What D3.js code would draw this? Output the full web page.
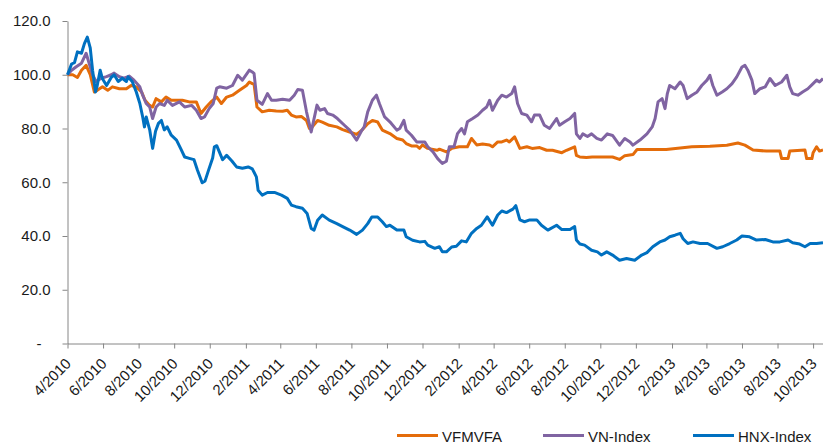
<!DOCTYPE html>
<html>
<head>
<meta charset="utf-8">
<script src="https://cdn.jsdelivr.net/npm/d3@7/dist/d3.min.js"></script>
<style>
  body { margin: 0; background: #fff; }
  svg { display: block; font-family: "Liberation Sans", Arial, sans-serif; }
  .axis path, .axis line { stroke: #868686; }
  .axis text { fill: #1a1a1a; font-size: 15px; }
  .legend text { fill: #1a1a1a; font-size: 15px; }
</style>
</head>
<body>
<svg width="823" height="444"></svg>
<script>
'use strict';

var seriesNames = ["VFMVFA", "VN-Index", "HNX-Index"];
var seriesColors = ["#e46c0a", "#8064a2", "#0070c0"];

var yTicks = [0, 20, 40, 60, 80, 100, 120];

var xTicks = ["2010-04-01", "2010-06-01", "2010-08-01", "2010-10-01", "2010-12-01",
  "2011-02-01", "2011-04-01", "2011-06-01", "2011-08-01", "2011-10-01", "2011-12-01",
  "2012-02-01", "2012-04-01", "2012-06-01", "2012-08-01", "2012-10-01", "2012-12-01",
  "2013-02-01", "2013-04-01", "2013-06-01", "2013-08-01", "2013-10-01"];

var vfmvfa = [
  ["2010-04-01", 100], ["2010-04-10", 100], ["2010-04-18", 99], ["2010-04-25", 101.7],
  ["2010-05-03", 103.5], ["2010-05-10", 100], ["2010-05-17", 93.6], ["2010-05-22", 94.2],
  ["2010-05-31", 95.5], ["2010-06-09", 94.2], ["2010-06-17", 95.5], ["2010-06-29", 94.8],
  ["2010-07-11", 94.8], ["2010-07-19", 96], ["2010-07-28", 95.5], ["2010-08-06", 93.6],
  ["2010-08-12", 90.5], ["2010-08-20", 88.6], ["2010-08-25", 88], ["2010-08-31", 91.1],
  ["2010-09-09", 89.9], ["2010-09-17", 91.7], ["2010-09-26", 90.5], ["2010-10-05", 90.5],
  ["2010-10-15", 90.5], ["2010-10-27", 89.9], ["2010-11-08", 89.9], ["2010-11-16", 85.6],
  ["2010-11-25", 88], ["2010-12-03", 89.9], ["2010-12-13", 91.7], ["2010-12-21", 89.3],
  ["2010-12-30", 91.7], ["2011-01-09", 92.4], ["2011-01-21", 94.2], ["2011-02-02", 96],
  ["2011-02-07", 97.3], ["2011-02-12", 96.7], ["2011-02-15", 96.5], ["2011-02-20", 88],
  ["2011-03-01", 86.2], ["2011-03-13", 86.8], ["2011-03-25", 86.5], ["2011-04-05", 86.4],
  ["2011-04-13", 86.8], ["2011-04-20", 85], ["2011-04-28", 84.3], ["2011-05-07", 84.5],
  ["2011-05-16", 83], ["2011-05-21", 80], ["2011-05-26", 80.6], ["2011-06-04", 83],
  ["2011-06-12", 82.4], ["2011-06-24", 81.2], ["2011-07-07", 80.6], ["2011-07-17", 79.6],
  ["2011-07-29", 78.7], ["2011-08-10", 77.8], ["2011-08-20", 79.6], ["2011-08-29", 81.8],
  ["2011-09-06", 83], ["2011-09-15", 82.4], ["2011-09-23", 79.4], ["2011-10-06", 78.1],
  ["2011-10-18", 76.3], ["2011-10-28", 75.7], ["2011-11-03", 74.4], ["2011-11-12", 73.5],
  ["2011-11-21", 73.5], ["2011-11-26", 72.6], ["2011-12-01", 73.9], ["2011-12-10", 72.6],
  ["2011-12-26", 71.9], ["2011-12-30", 72.3], ["2012-01-11", 71.3], ["2012-01-20", 72.6],
  ["2012-02-02", 73.2], ["2012-02-16", 73.2], ["2012-02-23", 76.3], ["2012-03-03", 73.9],
  ["2012-03-13", 74.2], ["2012-03-25", 73.9], ["2012-03-30", 73.2], ["2012-04-08", 75],
  ["2012-04-15", 75], ["2012-04-23", 75.7], ["2012-04-28", 75], ["2012-05-07", 76.9],
  ["2012-05-16", 72.6], ["2012-05-28", 73.2], ["2012-06-06", 72.6], ["2012-06-19", 72.9],
  ["2012-07-01", 71.9], ["2012-07-11", 71.9], ["2012-07-27", 71], ["2012-08-04", 71.9],
  ["2012-08-18", 73.2], ["2012-08-21", 70], ["2012-08-27", 69.4], ["2012-09-07", 69.2],
  ["2012-09-17", 69.4], ["2012-10-05", 69.4], ["2012-10-22", 69.4], ["2012-11-03", 68.5],
  ["2012-11-12", 69.9], ["2012-11-26", 70.3], ["2012-12-03", 72.2], ["2012-12-13", 72.2],
  ["2013-01-22", 72.2], ["2013-03-07", 73.2], ["2013-04-07", 73.4], ["2013-05-06", 73.8],
  ["2013-05-25", 74.6], ["2013-06-06", 73.8], ["2013-06-20", 72], ["2013-07-13", 71.6],
  ["2013-08-05", 71.6], ["2013-08-08", 68.8], ["2013-08-19", 68.8], ["2013-08-22", 71.6],
  ["2013-09-17", 72], ["2013-09-20", 68.8], ["2013-09-29", 68.8], ["2013-10-01", 71],
  ["2013-10-07", 73.2], ["2013-10-12", 71.6], ["2013-10-18", 72]
];

var vnIndex = [
  ["2010-04-01", 100], ["2010-04-08", 101.7], ["2010-04-16", 103], ["2010-04-25", 104.3],
  ["2010-05-03", 108], ["2010-05-08", 104.3], ["2010-05-14", 100], ["2010-05-20", 97.5],
  ["2010-05-29", 98.7], ["2010-06-07", 99.3], ["2010-06-15", 100], ["2010-06-20", 100.6],
  ["2010-06-29", 99.3], ["2010-07-07", 98.7], ["2010-07-16", 99.5], ["2010-07-24", 98],
  ["2010-08-03", 95.5], ["2010-08-08", 92.4], ["2010-08-14", 89.3], ["2010-08-20", 88],
  ["2010-08-25", 83.7], ["2010-08-31", 88], ["2010-09-06", 89.3], ["2010-09-14", 88.6],
  ["2010-09-19", 90.5], ["2010-09-28", 88.6], ["2010-10-10", 89.9], ["2010-10-19", 88],
  ["2010-10-31", 88.6], ["2010-11-08", 86.8], ["2010-11-16", 83.7], ["2010-11-22", 84.3],
  ["2010-11-30", 87.4], ["2010-12-07", 89.3], ["2010-12-13", 95], ["2010-12-18", 95.5],
  ["2010-12-30", 95], ["2011-01-09", 96], ["2011-01-18", 99.8], ["2011-01-26", 98],
  ["2011-02-07", 101.7], ["2011-02-12", 101], ["2011-02-15", 100.5], ["2011-02-20", 90.5],
  ["2011-03-01", 89], ["2011-03-10", 93], ["2011-03-17", 90.5], ["2011-03-25", 90.5],
  ["2011-04-05", 90.9], ["2011-04-17", 90.5], ["2011-04-25", 92.4], ["2011-05-01", 94.5],
  ["2011-05-09", 94.2], ["2011-05-16", 86.2], ["2011-05-24", 78.7], ["2011-06-03", 88.7],
  ["2011-06-08", 86.8], ["2011-06-16", 87.4], ["2011-06-21", 85.6], ["2011-06-30", 85],
  ["2011-07-08", 83.7], ["2011-07-20", 81.2], ["2011-07-29", 79.4], ["2011-08-10", 75.7],
  ["2011-08-18", 79], ["2011-08-23", 80.6], ["2011-08-29", 86.2], ["2011-09-06", 90.5],
  ["2011-09-13", 92.4], ["2011-09-18", 89.3], ["2011-09-27", 84.3], ["2011-10-06", 82.5],
  ["2011-10-18", 79.4], ["2011-10-23", 80], ["2011-10-30", 83], ["2011-11-03", 79.4],
  ["2011-11-12", 77.5], ["2011-11-21", 75], ["2011-12-05", 75], ["2011-12-10", 73.2],
  ["2011-12-19", 71.3], ["2011-12-27", 68.8], ["2012-01-04", 67], ["2012-01-11", 67.8],
  ["2012-01-16", 73.2], ["2012-01-24", 73.2], ["2012-01-30", 78.1], ["2012-02-06", 80],
  ["2012-02-11", 78], ["2012-02-16", 82.5], ["2012-02-25", 83.7], ["2012-03-05", 85],
  ["2012-03-13", 86.8], ["2012-03-20", 88], ["2012-03-25", 90.5], ["2012-03-30", 86.8],
  ["2012-04-08", 90.5], ["2012-04-15", 92.4], ["2012-04-23", 91.7], ["2012-05-02", 93],
  ["2012-05-07", 95.5], ["2012-05-12", 89.3], ["2012-05-19", 85.6], ["2012-05-28", 85],
  ["2012-06-05", 82.5], ["2012-06-10", 85], ["2012-06-19", 85], ["2012-06-27", 81.2],
  ["2012-07-06", 80], ["2012-07-18", 83.7], ["2012-07-23", 81.2], ["2012-08-01", 82.5],
  ["2012-08-10", 83.7], ["2012-08-18", 85.6], ["2012-08-21", 78], ["2012-08-27", 76.3],
  ["2012-09-01", 78], ["2012-09-09", 77], ["2012-09-16", 78], ["2012-09-25", 76.3],
  ["2012-10-03", 75.7], ["2012-10-13", 78], ["2012-10-22", 77.4], ["2012-11-03", 73.8],
  ["2012-11-12", 76.3], ["2012-11-21", 75], ["2012-11-26", 73.8], ["2012-12-08", 75.7],
  ["2012-12-20", 78], ["2012-12-29", 80.6], ["2013-01-03", 83.7], ["2013-01-08", 89.9],
  ["2013-01-15", 91.1], ["2013-01-20", 87.4], ["2013-01-24", 93], ["2013-01-28", 96],
  ["2013-02-06", 94.8], ["2013-02-15", 97.3], ["2013-02-20", 96], ["2013-02-27", 91.1],
  ["2013-03-07", 92.4], ["2013-03-16", 93.6], ["2013-03-24", 96], ["2013-04-02", 98],
  ["2013-04-07", 99.8], ["2013-04-12", 96], ["2013-04-19", 92.4], ["2013-04-28", 93.6],
  ["2013-05-06", 94.8], ["2013-05-15", 96.7], ["2013-05-23", 99.2], ["2013-06-01", 102.9],
  ["2013-06-06", 103.5], ["2013-06-11", 101.7], ["2013-06-18", 98], ["2013-06-23", 93],
  ["2013-07-02", 94.8], ["2013-07-11", 95.5], ["2013-07-19", 98.6], ["2013-07-28", 96],
  ["2013-08-08", 97.3], ["2013-08-17", 99.8], ["2013-08-22", 95.5], ["2013-08-27", 93],
  ["2013-09-05", 92.4], ["2013-09-13", 93.6], ["2013-09-22", 94.8], ["2013-10-01", 96.7],
  ["2013-10-07", 98], ["2013-10-12", 97.3], ["2013-10-18", 98.6]
];

var hnxIndex = [
  ["2010-04-01", 100], ["2010-04-08", 104], ["2010-04-13", 104.5], ["2010-04-18", 108.5],
  ["2010-04-25", 108], ["2010-04-30", 111.6], ["2010-05-05", 114], ["2010-05-10", 110],
  ["2010-05-14", 101.7], ["2010-05-19", 93.6], ["2010-05-22", 96], ["2010-05-27", 101.7],
  ["2010-05-31", 98.5], ["2010-06-07", 96], ["2010-06-15", 99], ["2010-06-20", 100],
  ["2010-06-27", 97.5], ["2010-07-04", 98.7], ["2010-07-11", 97.5], ["2010-07-14", 99.2],
  ["2010-07-21", 97.5], ["2010-07-28", 93.6], ["2010-08-03", 89.4], ["2010-08-08", 84.3],
  ["2010-08-11", 80.6], ["2010-08-14", 84.3], ["2010-08-20", 79.5], ["2010-08-25", 72.6],
  ["2010-08-30", 79], ["2010-09-04", 81.9], ["2010-09-09", 83], ["2010-09-14", 79.5],
  ["2010-09-19", 80.6], ["2010-09-26", 77.5], ["2010-10-05", 75.7], ["2010-10-12", 72.6],
  ["2010-10-19", 69.4], ["2010-10-27", 68.9], ["2010-11-04", 68.4], ["2010-11-10", 64.5],
  ["2010-11-18", 59.8], ["2010-11-23", 60.5], ["2010-11-29", 64.5], ["2010-12-06", 69],
  ["2010-12-09", 73.2], ["2010-12-13", 73.6], ["2010-12-18", 71], ["2010-12-23", 68.4],
  ["2010-12-30", 70], ["2011-01-08", 67.9], ["2011-01-16", 65.7], ["2011-01-26", 65.2],
  ["2011-02-05", 65.7], ["2011-02-12", 65], ["2011-02-19", 62], ["2011-02-22", 57],
  ["2011-03-01", 55.2], ["2011-03-10", 56.2], ["2011-03-22", 56.2], ["2011-04-03", 55.2],
  ["2011-04-13", 54], ["2011-04-20", 51.5], ["2011-04-28", 50.9], ["2011-05-09", 50.3],
  ["2011-05-17", 48.4], ["2011-05-24", 42.8], ["2011-05-29", 42.2], ["2011-06-04", 45.9],
  ["2011-06-12", 47.8], ["2011-06-24", 45.9], ["2011-07-07", 44.6], ["2011-07-17", 43.5],
  ["2011-07-29", 42.2], ["2011-08-10", 40.6], ["2011-08-20", 42.2], ["2011-08-29", 44.6],
  ["2011-09-05", 47.1], ["2011-09-15", 47.1], ["2011-09-23", 45.3], ["2011-09-30", 43.5],
  ["2011-10-06", 44], ["2011-10-18", 42.2], ["2011-10-30", 42.2], ["2011-11-03", 39.7],
  ["2011-11-14", 38.4], ["2011-11-26", 37.8], ["2011-12-05", 38], ["2011-12-10", 36.6],
  ["2011-12-22", 35.4], ["2011-12-30", 36], ["2012-01-04", 34.1], ["2012-01-11", 34.1],
  ["2012-01-20", 35.9], ["2012-01-28", 36.2], ["2012-02-06", 38.2], ["2012-02-14", 37.8],
  ["2012-02-23", 41], ["2012-03-03", 42.8], ["2012-03-11", 44], ["2012-03-21", 47.1],
  ["2012-03-30", 44], ["2012-04-08", 47.8], ["2012-04-15", 49.3], ["2012-04-23", 48.7],
  ["2012-05-04", 50], ["2012-05-09", 51.3], ["2012-05-16", 46], ["2012-05-24", 45.3],
  ["2012-06-02", 46], ["2012-06-14", 46], ["2012-06-22", 44], ["2012-07-03", 42.2],
  ["2012-07-18", 44], ["2012-07-27", 42.4], ["2012-08-10", 42.4], ["2012-08-18", 43.5],
  ["2012-08-21", 38.5], ["2012-08-27", 37], ["2012-09-04", 36.6], ["2012-09-16", 34.7],
  ["2012-09-26", 34.1], ["2012-10-03", 32.9], ["2012-10-12", 34.1], ["2012-10-22", 32.9],
  ["2012-11-03", 31], ["2012-11-15", 31.6], ["2012-11-29", 31], ["2012-12-11", 32.9],
  ["2012-12-20", 33.8], ["2012-12-30", 36], ["2013-01-11", 37.8], ["2013-01-20", 38.5],
  ["2013-01-28", 39.7], ["2013-02-06", 40.3], ["2013-02-15", 41], ["2013-02-20", 39],
  ["2013-02-28", 37.2], ["2013-03-09", 37.8], ["2013-03-21", 37.2], ["2013-04-03", 37.2],
  ["2013-04-19", 35.4], ["2013-04-29", 36], ["2013-05-11", 37.2], ["2013-05-23", 38.5],
  ["2013-06-01", 40], ["2013-06-14", 39.7], ["2013-06-26", 38.5], ["2013-07-11", 38.7],
  ["2013-07-24", 37.8], ["2013-08-05", 37.8], ["2013-08-19", 38.5], ["2013-08-27", 37.5],
  ["2013-09-08", 37], ["2013-09-17", 36], ["2013-09-26", 37.2], ["2013-10-07", 37.2],
  ["2013-10-18", 37.5]
];

var parse = d3.timeParse("%Y-%m-%d");
var series = [vfmvfa, vnIndex, hnxIndex].map(function (s) {
  return s.map(function (d) { return { date: parse(d[0]), v: d[1] }; });
});

var svg = d3.select('svg');

var x = d3.scaleTime()
  .domain([parse("2010-04-01"), parse("2013-10-18")])
  .range([67.5, 823]);

var y = d3.scaleLinear()
  .domain([0, 120])
  .range([343.5, 21]);

// y axis
var yAxis = svg.append('g')
  .attr('class', 'axis')
  .attr('transform', 'translate(67.5,0)')
  .call(d3.axisLeft(y)
    .tickValues(yTicks)
    .tickSize(5)
    .tickSizeOuter(0)
    .tickPadding(12)
    .tickFormat(function (d) { return d === 0 ? '-' : d3.format('.1f')(d); }));
yAxis.selectAll('text')
  .attr('dx', function (d) { return d === 0 ? -9 : 0; });

// x axis
var xAxis = svg.append('g')
  .attr('class', 'axis')
  .attr('transform', 'translate(0,343.5)')
  .call(d3.axisBottom(x)
    .tickValues(xTicks.map(parse))
    .tickSize(5)
    .tickSizeOuter(0)
    .tickFormat(d3.timeFormat('%-m/%Y')));
xAxis.selectAll('text')
  .attr('x', 0)
  .attr('y', 0)
  .attr('dy', 0)
  .attr('transform', 'translate(4,21) rotate(-45)')
  .style('text-anchor', 'end');

var line = d3.line()
  .x(function (d) { return x(d.date); })
  .y(function (d) { return y(d.v); });

svg.append('g')
  .selectAll('path')
  .data(series)
  .enter()
  .append('path')
  .attr('d', line)
  .attr('fill', 'none')
  .attr('stroke', function (d, i) { return seriesColors[i]; })
  .attr('stroke-width', 3)
  .attr('stroke-linejoin', 'round');

// legend
var legendX = [397, 543, 693];
var legend = svg.append('g')
  .attr('class', 'legend')
  .selectAll('g')
  .data(seriesNames)
  .enter()
  .append('g')
  .attr('transform', function (d, i) { return 'translate(' + legendX[i] + ',435.5)'; });
legend.append('line')
  .attr('x1', 0)
  .attr('x2', 41)
  .attr('stroke', function (d, i) { return seriesColors[i]; })
  .attr('stroke-width', 3);
legend.append('text')
  .attr('x', 45)
  .attr('y', 6)
  .text(function (d) { return d; });
</script>
</body>
</html>
